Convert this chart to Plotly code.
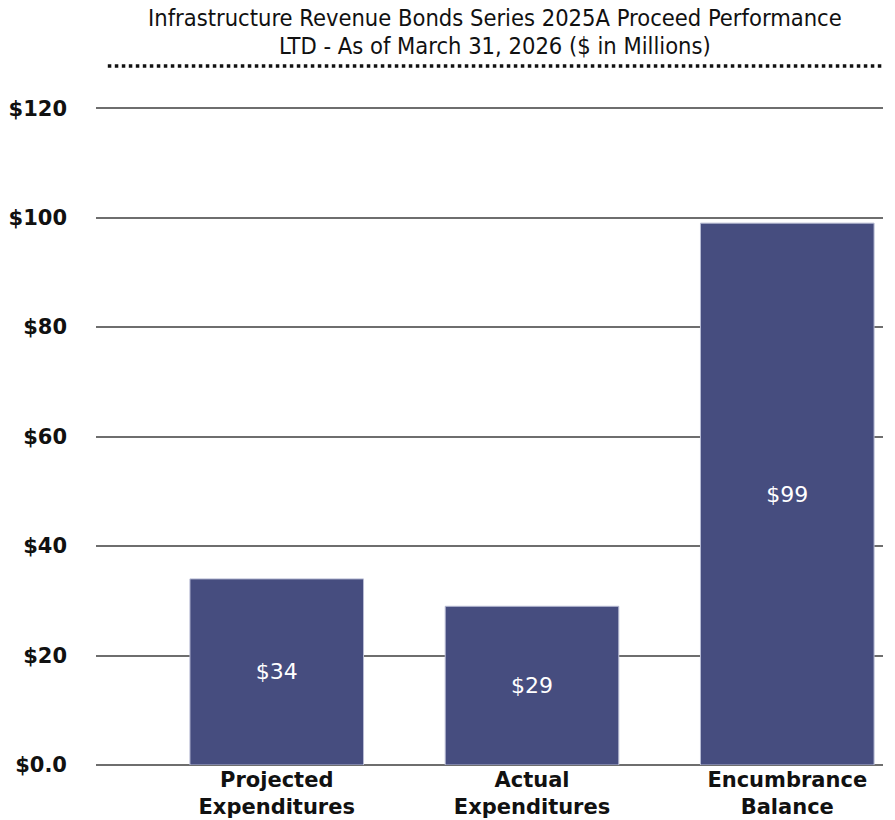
import plotly.graph_objects as go

# Proceed performance figures ($ in millions)
categories = ["Projected<br>Expenditures", "Actual<br>Expenditures", "Encumbrance<br>Balance"]
values = [34, 29, 99]
tick_values = [0, 20, 40, 60, 80, 100, 120]
tick_labels = ["$0.0", "$20", "$40", "$60", "$80", "$100", "$120"]
title_lines = [
    "Infrastructure Revenue Bonds Series 2025A Proceed Performance",
    "LTD - As of March 31, 2026 ($ in Millions)",
]

bar_color = "#464D7F"
grid_color = "#6E6E6E"
label_font = "DejaVu Sans, sans-serif"
title_font = "DejaVu Sans Condensed, Liberation Sans Narrow, DejaVu Sans, sans-serif"

PLOT_H = 820 - 106 - 55  # plot area height in px


def paper_y(px_from_top):
    """Convert a pixel row (from the top of the page) to paper y."""
    return (820 - 55 - px_from_top) / PLOT_H


fig = go.Figure(
    go.Bar(
        x=list(range(len(categories))),
        y=values,
        width=0.68,
        marker=dict(color=bar_color, line=dict(color="#B8BCD4", width=1)),
        text=[f"${v}" for v in values],
        textposition="inside",
        insidetextanchor="middle",
        textfont=dict(family=label_font, size=22, color="white"),
        cliponaxis=False,
        hoverinfo="skip",
    )
)

# Two-line heading, drawn as annotations so each row can be placed exactly
for line, ypx in zip(title_lines, [18, 46]):
    fig.add_annotation(
        text=line,
        xref="paper",
        yref="paper",
        x=(495 - 96) / (895 - 96 - 12),
        y=paper_y(ypx),
        xanchor="center",
        yanchor="middle",
        showarrow=False,
        font=dict(family=title_font, size=23.5, color="#111111"),
    )

fig.update_layout(
    width=895,
    height=820,
    margin=dict(l=96, r=12, t=106, b=55, autoexpand=False),
    paper_bgcolor="white",
    plot_bgcolor="white",
    showlegend=False,
    xaxis=dict(
        range=[-0.708, 2.375],
        tickmode="array",
        tickvals=list(range(len(categories))),
        ticktext=[f"<b>{c}</b>" for c in categories],
        tickfont=dict(family=label_font, size=21, color="#111111"),
        showgrid=False,
        zeroline=False,
        showline=False,
        ticks="",
        ticklen=0,
        automargin=False,
    ),
    yaxis=dict(
        range=[0, 120.4],
        tickmode="array",
        tickvals=tick_values,
        ticktext=[f"<b>{t}</b>" for t in tick_labels],
        tickfont=dict(family=label_font, size=21, color="#111111"),
        showgrid=True,
        gridcolor=grid_color,
        gridwidth=2,
        zeroline=True,
        zerolinecolor=grid_color,
        zerolinewidth=2,
        showline=False,
        ticks="",
        ticklabelstandoff=28,
        automargin=False,
        layer="below traces",
    ),
    shapes=[
        dict(
            type="line",
            xref="paper",
            yref="paper",
            x0=0.015,
            x1=0.998,
            y0=paper_y(66),
            y1=paper_y(66),
            line=dict(color="#111111", width=3.5, dash="dot"),
        )
    ],
)

fig.write_html("out.html")
